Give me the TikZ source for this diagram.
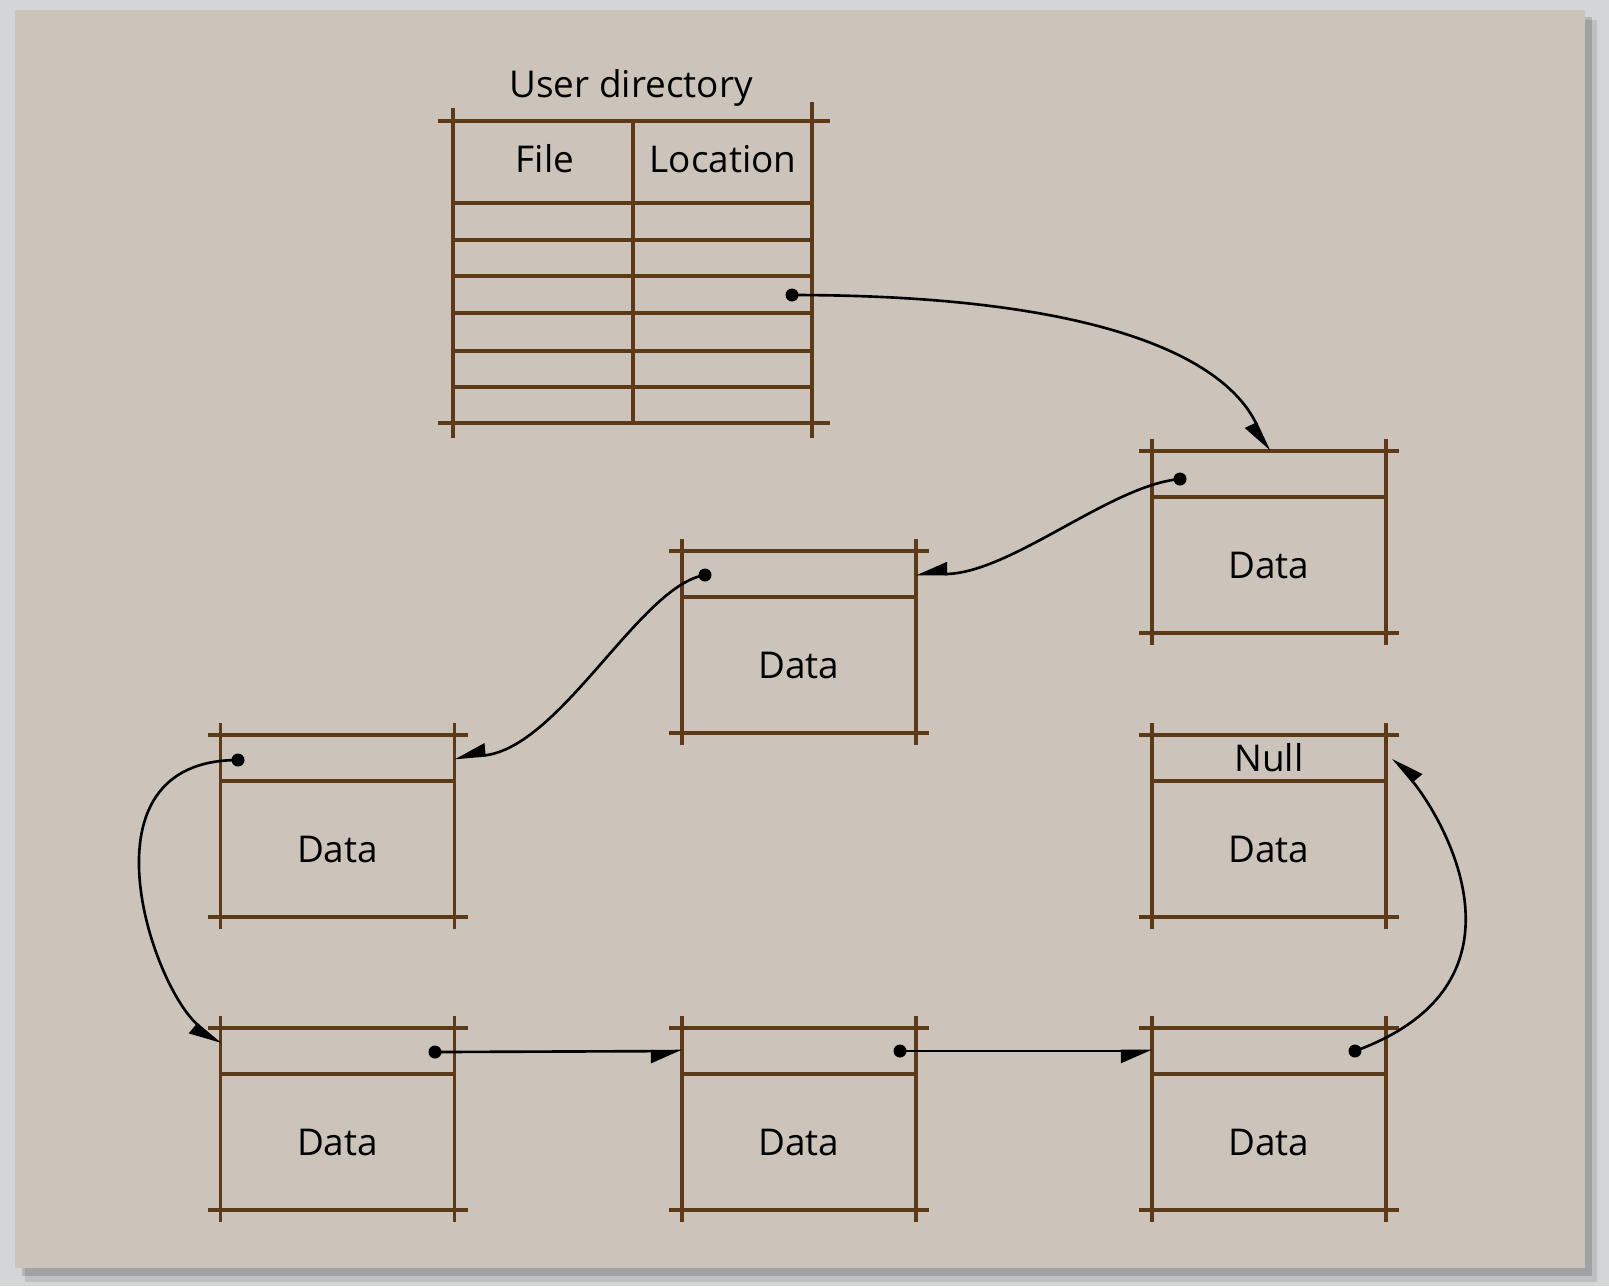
\documentclass[tikz,border=0pt]{standalone}
\usepackage{fontspec}
\setmainfont{Open Sans}
\usetikzlibrary{positioning,arrows.meta}

\definecolor{paper}{RGB}{204,196,186}
\definecolor{outside}{RGB}{212,213,214}
\definecolor{rulebrown}{RGB}{92,58,24}

\begin{document}
\begin{tikzpicture}[
    % Cell styles (pointer field and data field)
    ptrcell/.style={minimum width=2.34cm, minimum height=0.46cm, inner sep=0pt, outer sep=0pt, font=\fontsize{10.5}{12.6}\selectfont},
    datacell/.style={minimum width=2.34cm, minimum height=1.36cm, inner sep=0pt, outer sep=0pt, font=\fontsize{10.5}{12.6}\selectfont},
    headcell/.style={font=\fontsize{10.5}{12.6}\selectfont},
    ptrdot/.style={circle, fill=black, minimum size=3.7pt, inner sep=0pt},
    boxline/.style={line width=0.9pt, draw=rulebrown},
    pointer/.style={line width=0.75pt, -{Triangle[length=8pt,width=6.8pt,right]}}
]
\useasboundingbox (0,0) rectangle (16.09,-12.86);

% ---------------------------------------------------------
% 0. PAPER (background sheet and shadow)
% ---------------------------------------------------------
\fill[outside] (0,0) rectangle (16.09,-12.86);
\fill[black, opacity=0.10] (0.25,-0.20) rectangle (15.97,-12.82);
\fill[black, opacity=0.15] (0.22,-0.17) rectangle (15.92,-12.76);
\fill[paper] (0.15,-0.10) rectangle (15.85,-12.68);

% ---------------------------------------------------------
% 1. USER DIRECTORY (table)
% ---------------------------------------------------------
\node[headcell, anchor=base] (dirTitle) at (6.31,-0.97) {User directory};
\node[headcell] (fileHd) at (5.45,-1.59) {File};
\node[headcell] (locHd) at (7.23,-1.59) {Location};

% outer rules run past the corners
\draw[boxline] (4.38,-1.21) -- (8.30,-1.21);
\draw[boxline] (4.38,-4.23) -- (8.30,-4.23);
\draw[boxline] (4.53,-1.08) -- (4.53,-4.38);
\draw[boxline] (8.12,-1.02) -- (8.12,-4.38);
\draw[boxline] (6.33,-1.21) -- (6.33,-4.23);
\foreach \y in {2.03, 2.40, 2.76, 3.13, 3.51, 3.87} \draw[boxline] (4.53,-\y) -- (8.12,-\y);

% ---------------------------------------------------------
% 2. BLOCKS (pointer field on top, data below)
% ---------------------------------------------------------
\node[ptrcell] (link1) at (12.69,-4.74) {};
\node[datacell, below=0pt of link1] (data1) {Data};

\node[ptrcell] (link2) at (7.99,-5.74) {};
\node[datacell, below=0pt of link2] (data2) {Data};

\node[ptrcell] (link3) at (3.375,-7.58) {};
\node[datacell, below=0pt of link3] (data3) {Data};

\node[ptrcell] (link4) at (3.375,-10.51) {};
\node[datacell, below=0pt of link4] (data4) {Data};

\node[ptrcell] (link5) at (7.99,-10.51) {};
\node[datacell, below=0pt of link5] (data5) {Data};

\node[ptrcell] (link6) at (12.69,-10.51) {};
\node[datacell, below=0pt of link6] (data6) {Data};

\node[ptrcell] (link7) at (12.69,-7.58) {Null};
\node[datacell, below=0pt of link7] (data7) {Data};

% block rules
\foreach \i in {1,...,7} {
  \draw[boxline] ([xshift=-0.13cm]link\i.north west) -- ([xshift=0.13cm]link\i.north east);
  \draw[boxline] (link\i.south west) -- (link\i.south east);
  \draw[boxline] ([xshift=-0.13cm]data\i.south west) -- ([xshift=0.13cm]data\i.south east);
  \draw[boxline] ([yshift=0.12cm]link\i.north west) -- ([yshift=-0.12cm]data\i.south west);
  \draw[boxline] ([yshift=0.12cm]link\i.north east) -- ([yshift=-0.12cm]data\i.south east);
}

% ---------------------------------------------------------
% 3. POINTERS (dots and arrows)
% ---------------------------------------------------------
\node[ptrdot] (ptrdir) at (7.92,-2.95) {};
\node[ptrdot] (ptr1) at (11.80,-4.79) {};
\node[ptrdot] (ptr2) at (7.05,-5.75) {};
\node[ptrdot] (ptr3) at (2.38,-7.60) {};
\node[ptrdot] (ptr4) at (4.35,-10.52) {};
\node[ptrdot] (ptr5) at (9.00,-10.51) {};
\node[ptrdot] (ptr6) at (13.55,-10.51) {};

\draw[pointer] (ptrdir.center) to[out=0, in=115, out distance=2.9cm, in distance=1.1cm] (link1.north);
\draw[pointer] (ptr1.center) to[out=185, in=0, out distance=0.7cm, in distance=0.94cm] (link2.east);
\draw[pointer] (ptr2.center) to[out=189, in=5, out distance=0.66cm, in distance=1.06cm] (link3.east);
\draw[pointer] (ptr3.center) to[out=180, in=140, out distance=1.63cm, in distance=0.9cm] ([yshift=2pt]link4.west);
\draw[pointer] (ptr4.center) -- (link5.west);
\draw[pointer] (ptr5.center) -- (link6.west);
\draw[pointer] (ptr6.center) to[out=20, in=-50, out distance=2.0cm, in distance=0.75cm] ([xshift=2pt]link7.east);

\end{tikzpicture}
\end{document}
